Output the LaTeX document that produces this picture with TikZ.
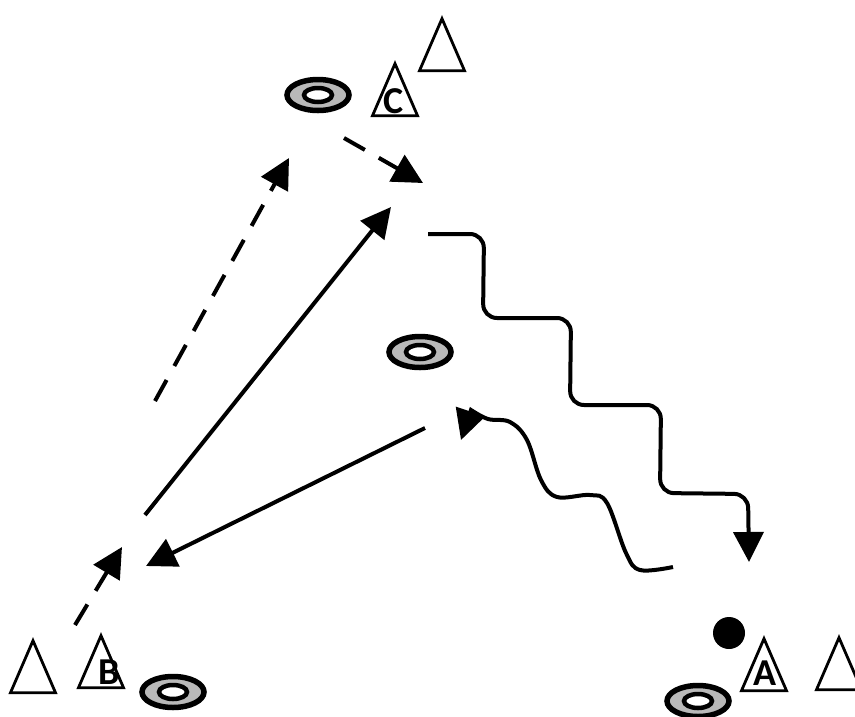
\documentclass[tikz,border=0pt]{standalone}
\usepackage{fontspec}
\newfontfamily\conefont{Carlito}
\usetikzlibrary{arrows.meta,shapes.geometric}
\tikzset{
  cone-node/.style={draw=black, line width=2.8pt, fill=white, isosceles triangle,
    shape border rotate=90, isosceles triangle stretches, minimum width=45pt,
    minimum height=52pt, inner sep=0pt, anchor=apex},
  disc-outer/.style={ellipse, draw=black, line width=5.5pt, fill=gray!55,
    minimum width=62pt, minimum height=31pt, inner sep=0pt},
  disc-hole/.style={ellipse, draw=black, line width=4.5pt, fill=white,
    minimum width=28pt, minimum height=14pt, inner sep=0pt},
  ball-node/.style={circle, fill=black, minimum size=32pt, inner sep=0pt},
  cone-label/.style={font=\conefont\bfseries\fontsize{38}{38}\selectfont, inner sep=0pt},
  run-arrow/.style={-{Triangle[length=30pt,width=30pt]}, line width=4pt},
  pass-arrow/.style={run-arrow, dash pattern=on 24pt off 16pt},
  dribble-arrow/.style={run-arrow, rounded corners=14pt}
}
\begin{document}
\begin{tikzpicture}[x=1pt, y=-1pt]
\useasboundingbox (0,0) rectangle (855,716);
% cones
\node[cone-node] (coneTop) at (442,15) {};
\node[cone-node] (coneC) at (395,60) {};
\node[cone-node] (coneBL) at (33,637) {};
\node[cone-node] (coneB) at (101,632) {};
\node[cone-node] (coneA) at (764,635) {};
\node[cone-node] (coneR) at (839,634) {};
\node[cone-label] (lblC) at (394,101) {C};
\node[cone-label] (lblB) at (109,672) {B};
\node[cone-label] (lblA) at (765,673) {A};
% discs
\node[disc-outer] (discC) at (318,95) {};
\node[disc-hole] at (discC) {};
\node[disc-outer] (discMid) at (420,352) {};
\node[disc-hole] at (discMid) {};
\node[disc-outer] (discB) at (173,692) {};
\node[disc-hole] at (discB) {};
\node[disc-outer] (discA) at (698,701) {};
\node[disc-hole] at (discA) {};
% ball
\node[ball-node] (ball) at (729,633) {};
% arrow ends
\coordinate (p1s) at (75,625);   \coordinate (p1e) at (122,547);
\coordinate (p2s) at (155,401);  \coordinate (p2e) at (289,158);
\coordinate (p3s) at (344,138);  \coordinate (p3e) at (423,183);
\coordinate (r1s) at (145,515);  \coordinate (r1e) at (391,207);
\coordinate (r2s) at (425,428);  \coordinate (r2e) at (146,566);
\coordinate (w1s) at (428,234);  \coordinate (w1e) at (749,562);
\coordinate (w2s) at (673,567);  \coordinate (w2e) at (461,440);
% passes
\draw[pass-arrow] (p1s) -- (p1e);
\draw[pass-arrow] (p2s) -- (p2e);
\draw[pass-arrow] (p3s) -- (p3e);
% runs
\draw[run-arrow] (r1s) -- (r1e);
\draw[run-arrow] (r2s) -- (r2e);
% dribbles
\draw[dribble-arrow] (w1s) -- (484,234) -- (483,318) -- (571,318) -- (570,405)
  -- (661,405) -- (660,493) -- (748,494) -- (w1e);
\draw[run-arrow] plot[smooth, tension=0.6] coordinates {(w2s) (640,570) (626,553)
  (607,503) (590,495) (557,497) (541,480) (527,440) (510,422) (488,419) (471,410)}
  -- (w2e);
\end{tikzpicture}
\end{document}
